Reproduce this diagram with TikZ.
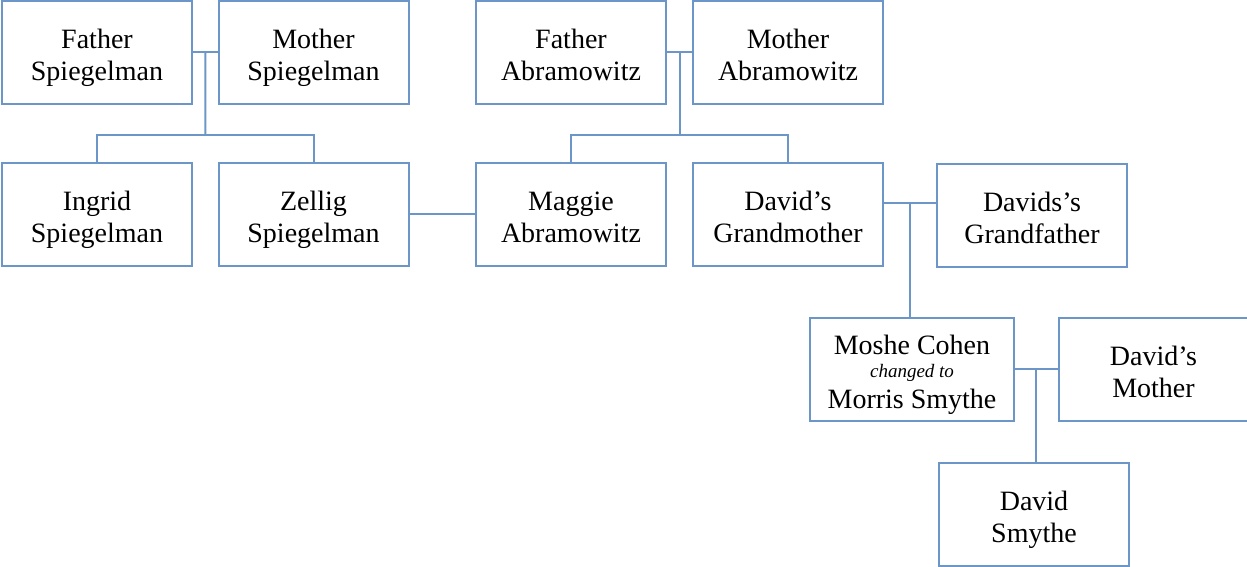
\documentclass[tikz,border=0pt]{standalone}
\usepackage{fontspec}
\setmainfont{Liberation Serif}
\usetikzlibrary{calc}
\definecolor{lineblue}{RGB}{108,149,200}
% two lines with fixed top and bottom
\newcommand{\twolines}[2]{\rule{0pt}{31.5pt}#1\\#2\rule[-6.5pt]{0pt}{0pt}}
\begin{document}
\begin{tikzpicture}[x=1pt,y=-1pt,
    person/.style={draw=lineblue,line width=2pt,minimum width=190pt,minimum height=103pt,
        inner sep=0pt,align=center,font=\fontsize{28}{32}\selectfont},
    link/.style={draw=lineblue,line width=2pt}]
    \useasboundingbox (0,0) rectangle (1247,567);

    % Spiegelman
    \node[person] (fs) at (97,52.5) {\twolines{Father}{Spiegelman}};
    \node[person] (ms) at (313.5,52.5) {\twolines{Mother}{Spiegelman}};
    \node[person] (is) at (97,214) {\twolines{Ingrid}{Spiegelman}};
    \node[person] (zs) at (313.5,214) {\twolines{Zellig}{Spiegelman}};

    % Abramowitz
    \node[person] (fa) at (571,52.5) {\twolines{Father}{Abramowitz}};
    \node[person] (ma) at (788,52.5) {\twolines{Mother}{Abramowitz}};
    \node[person] (mg) at (571,214) {\twolines{Maggie}{Abramowitz}};
    \node[person] (dgm) at (788,214) {\twolines{David’s}{Grandmother}};
    \node[person] (dgf) at (1032,215) {\twolines{Davids’s}{Grandfather}};

    % Smythe
    \node[person,minimum width=204pt] (mc) at (912,369)
        {\rule{0pt}{31.5pt}Moshe Cohen\\[-9pt]{\fontsize{19}{20}\selectfont\itshape changed to}\\[-1pt]Morris Smythe\rule[-6.5pt]{0pt}{0pt}};
    \node[person] (dm) at (1153.5,369) {\twolines{David’s}{Mother}};
    \node[person] (ds) at (1034,514) {\twolines{David}{Smythe}};

    \coordinate (sp) at ($(fs.east)!0.5!(ms.west)$);
    \coordinate (spk) at (205.5,135);
    \draw[link] (fs) -- (ms);
    \draw[link] (sp) -- (spk);
    \draw[link] (is) |- (spk) -| (zs);

    \coordinate (ap) at ($(fa.east)!0.5!(ma.west)$);
    \coordinate (apk) at (679.5,135);
    \draw[link] (fa) -- (ma);
    \draw[link] (ap) -- (apk);
    \draw[link] (mg) |- (apk) -| (dgm);

    \draw[link] (zs) -- (mg);

    \coordinate (dgp) at (909.5,203);
    \draw[link] (dgm.east |- dgp) -- (dgf.west |- dgp);
    \draw[link] (dgp) -- (dgp |- mc.north);

    \coordinate (mcp) at ($(mc.east)!0.5!(dm.west)$);
    \draw[link] (mc) -- (dm);
    \draw[link] (mcp) -- (mcp |- ds.north);

\end{tikzpicture}
\end{document}
